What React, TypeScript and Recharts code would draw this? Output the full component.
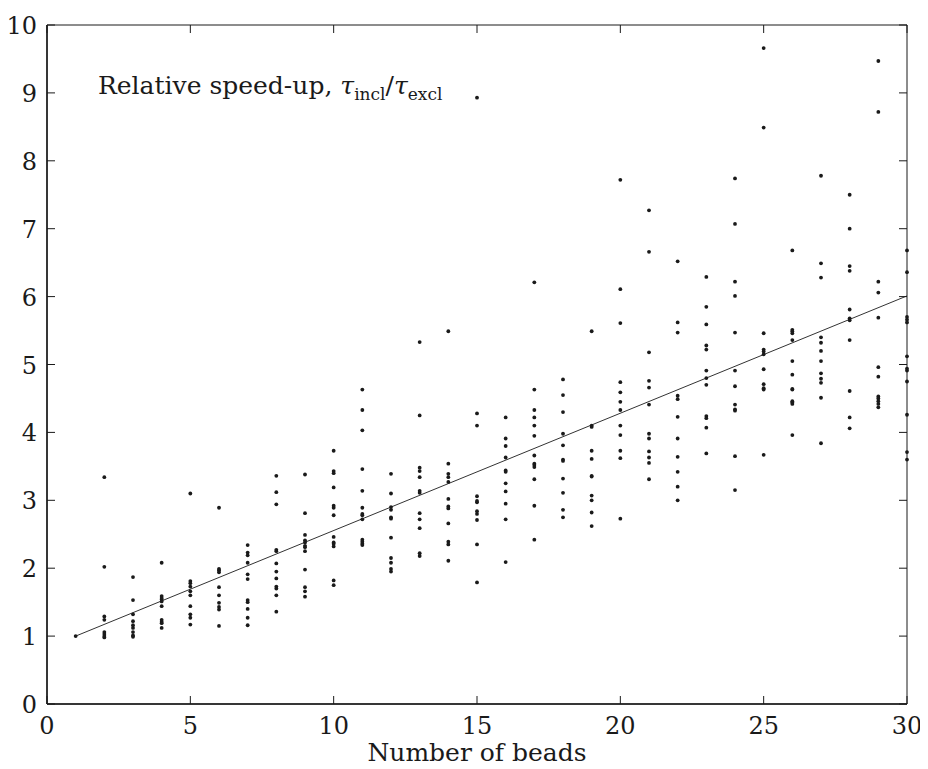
import React from 'react';
import { ScatterChart, Scatter, XAxis, YAxis, ReferenceArea, Label } from 'recharts';

// number of beads in each column of the scatter
const beads = [
  1, 2, 3, 4, 5, 6, 7, 8, 9, 10, 11, 12, 13, 14, 15,
  16, 17, 18, 19, 20, 21, 22, 23, 24, 25, 26, 27, 28, 29, 30,
];

// relative speed-up values measured for each bead count (same order as beads)
const speedUps = [
  [1.0],
  [3.34, 2.02, 1.29, 1.24, 1.06, 1.03, 1.0, 0.98],
  [1.87, 1.53, 1.32, 1.22, 1.16, 1.12, 1.06, 1.01, 0.99],
  [2.08, 1.59, 1.56, 1.54, 1.51, 1.44, 1.24, 1.21, 1.19, 1.12],
  [3.1, 1.81, 1.78, 1.73, 1.66, 1.6, 1.44, 1.32, 1.27, 1.17],
  [2.89, 1.99, 1.97, 1.94, 1.72, 1.6, 1.49, 1.43, 1.39, 1.15],
  [2.34, 2.23, 2.19, 2.08, 1.91, 1.84, 1.53, 1.5, 1.4, 1.27, 1.16],
  [3.36, 3.12, 2.94, 2.27, 2.25, 2.07, 1.95, 1.85, 1.73, 1.7, 1.6, 1.36],
  [3.38, 2.81, 2.49, 2.41, 2.38, 2.33, 2.31, 2.25, 1.98, 1.72, 1.66, 1.58],
  [3.73, 3.43, 3.4, 3.19, 2.92, 2.89, 2.78, 2.46, 2.38, 2.36, 2.32, 1.82, 1.75],
  [4.63, 4.33, 4.03, 3.46, 3.14, 2.89, 2.8, 2.78, 2.72, 2.42, 2.39, 2.36, 2.34],
  [3.39, 3.1, 2.9, 2.86, 2.75, 2.73, 2.45, 2.15, 2.08, 1.99, 1.95],
  [5.33, 4.25, 3.48, 3.43, 3.34, 3.14, 3.11, 2.81, 2.72, 2.59, 2.22, 2.18],
  [5.49, 3.54, 3.39, 3.34, 3.27, 3.02, 2.91, 2.88, 2.66, 2.39, 2.35, 2.11],
  [8.93, 4.28, 4.1, 3.06, 2.99, 2.97, 2.84, 2.8, 2.71, 2.35, 1.79],
  [4.22, 3.91, 3.8, 3.63, 3.44, 3.42, 3.25, 3.13, 2.95, 2.72, 2.09],
  [6.21, 4.63, 4.33, 4.22, 4.1, 3.95, 3.66, 3.54, 3.52, 3.49, 3.31, 2.92, 2.42],
  [4.78, 4.55, 4.3, 3.98, 3.81, 3.6, 3.58, 3.32, 3.11, 2.86, 2.75],
  [5.49, 4.1, 4.08, 3.73, 3.61, 3.36, 3.35, 3.07, 3.0, 2.82, 2.62],
  [7.72, 6.11, 5.61, 4.74, 4.59, 4.45, 4.33, 4.1, 3.96, 3.73, 3.62, 2.73],
  [7.27, 6.66, 5.18, 4.76, 4.66, 4.41, 3.98, 3.91, 3.72, 3.63, 3.55, 3.31],
  [6.52, 5.62, 5.47, 4.54, 4.49, 4.23, 3.91, 3.64, 3.42, 3.2, 3.0],
  [6.29, 5.85, 5.59, 5.28, 5.22, 4.91, 4.8, 4.7, 4.24, 4.21, 4.07, 3.69],
  [7.74, 7.07, 6.22, 6.01, 5.47, 4.91, 4.68, 4.41, 4.34, 4.32, 3.65, 3.15],
  [9.66, 8.49, 5.46, 5.22, 5.19, 5.15, 4.93, 4.71, 4.65, 4.63, 3.67],
  [6.68, 5.51, 5.49, 5.46, 5.36, 5.05, 4.85, 4.64, 4.63, 4.46, 4.44, 4.42, 3.96],
  [7.78, 6.49, 6.28, 5.4, 5.32, 5.2, 5.05, 4.87, 4.79, 4.73, 4.51, 3.84],
  [7.5, 7.0, 6.45, 6.38, 5.81, 5.68, 5.65, 5.36, 4.61, 4.22, 4.06],
  [9.47, 8.72, 6.22, 6.06, 5.69, 4.96, 4.82, 4.53, 4.5, 4.46, 4.42, 4.37],
  [6.68, 6.36, 5.7, 5.66, 5.62, 5.12, 4.94, 4.91, 4.75, 4.26, 3.71, 3.6],
];

// end points of the fitted line
const fitBeads = [1, 30];
const fitSpeedUps = [1.0, 6.01];

const xTicks = [0, 5, 10, 15, 20, 25, 30];
const yTicks = [0, 1, 2, 3, 4, 5, 6, 7, 8, 9, 10];

const points = beads.flatMap((b, i) => speedUps[i].map((v) => ({ beads: b, speedUp: v })));
const fitLine = fitBeads.map((b, i) => ({ beads: b, speedUp: fitSpeedUps[i] }));

const W = 920;
const H = 761;
const MARGIN = { top: 17, right: 21, bottom: 0, left: 0 };
const PLOT_TOP = MARGIN.top;
const PLOT_RIGHT = W - MARGIN.right;
const TICK_LEN = 8;
const FONT = '"DejaVu Serif", serif';
const INK = '#1a1a1a';

const XTick = (props: any) => {
  const { x, y, payload } = props;
  return (
    <g>
      <line x1={x} x2={x} y1={y} y2={y - TICK_LEN} stroke={INK} />
      <line x1={x} x2={x} y1={PLOT_TOP} y2={PLOT_TOP + TICK_LEN} stroke={INK} />
      <text x={x} y={y + 30} textAnchor="middle" fontFamily={FONT} fontSize={24} fill={INK}>
        {payload.value}
      </text>
    </g>
  );
};

const YTick = (props: any) => {
  const { x, y, payload } = props;
  return (
    <g>
      <line x1={x} x2={x + TICK_LEN} y1={y} y2={y} stroke={INK} />
      <line x1={PLOT_RIGHT} x2={PLOT_RIGHT - TICK_LEN} y1={y} y2={y} stroke={INK} />
      <text x={x - 10} y={y + 9} textAnchor="end" fontFamily={FONT} fontSize={24} fill={INK}>
        {payload.value}
      </text>
    </g>
  );
};

const Dot = (props: any) => <circle cx={props.cx} cy={props.cy} r={1.9} fill={INK} />;
const NoDot = () => <g />;

const subStyle: React.CSSProperties = { fontSize: 17, position: 'relative', top: 6 };

export default function App() {
  return (
    <div style={{ position: 'relative', width: W, height: H }}>
      <ScatterChart width={W} height={H} margin={MARGIN}>
        <XAxis
          type="number"
          dataKey="beads"
          domain={[0, 30]}
          ticks={xTicks}
          interval={0}
          height={65}
          tickSize={0}
          tickMargin={0}
          tickLine={false}
          tick={<XTick />}
          axisLine={{ stroke: INK, strokeWidth: 1.5 }}
        >
          <Label
            value="Number of beads"
            position="insideBottom"
            offset={8}
            fontFamily={FONT}
            fontSize={25}
            fill={INK}
          />
        </XAxis>
        <YAxis
          type="number"
          dataKey="speedUp"
          domain={[0, 10]}
          ticks={yTicks}
          interval={0}
          width={39}
          tickSize={0}
          tickMargin={0}
          tickLine={false}
          tick={<YTick />}
          axisLine={{ stroke: INK, strokeWidth: 1.5 }}
        />
        <ReferenceArea x1={0} x2={30} y1={0} y2={10} fill="none" stroke={INK} strokeWidth={1} />
        <Scatter
          data={fitLine}
          isAnimationActive={false}
          line={{ stroke: '#333', strokeWidth: 1 }}
          shape={<NoDot />}
        />
        <Scatter data={points} isAnimationActive={false} shape={<Dot />} />
      </ScatterChart>
      <div
        style={{
          position: 'absolute',
          left: 90,
          top: 65,
          fontFamily: FONT,
          fontSize: 25,
          lineHeight: '25px',
          whiteSpace: 'nowrap',
          color: INK,
        }}
      >
        Relative speed-up,&nbsp;<i>τ</i>
        <span style={subStyle}>incl</span>/<i>τ</i>
        <span style={subStyle}>excl</span>
      </div>
    </div>
  );
}
